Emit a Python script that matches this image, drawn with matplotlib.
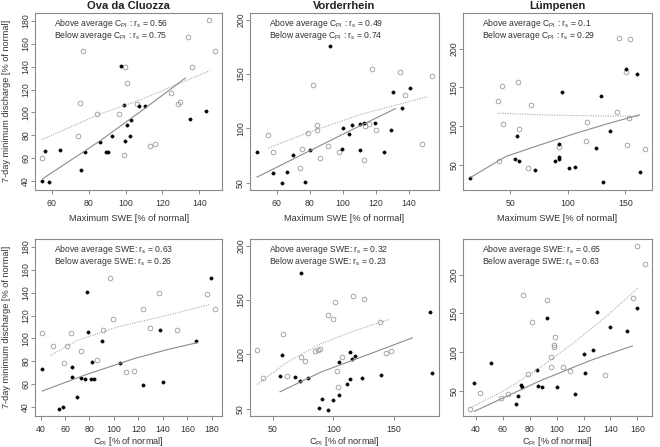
import matplotlib
matplotlib.use('Agg')
import matplotlib.pyplot as plt

plt.rcParams['font.family'] = ['Liberation Sans', 'DejaVu Sans']
plt.rcParams['mathtext.default'] = 'regular'

# ---------------- text ----------------
titles = ['Ova da Cluozza', 'Vorderrhein', 'Lümpenen']
top_xlabel = 'Maximum SWE [% of normal]'
bottom_xlabel = 'C$_{PI}$ [% of normal]'
ylabel = '7-day minimum discharge [% of normal]'
rs_top_above = ['0.56', '0.49', '0.1']
rs_top_below = ['0.75', '0.74', '0.29']
rs_bot_above = ['0.63', '0.32', '0.65']
rs_bot_below = ['0.26', '0.23', '0.63']

# ---------------- Ova da Cluozza, max SWE ----------------
ova_swe_above_x = [54.6, 77.0, 75.0, 74.3, 84.4, 96.4, 99.8, 100.7, 99.3, 106.2, 113.0, 115.9, 124.8, 128.6, 129.7, 133.8, 136.2, 145.4, 148.7]
ova_swe_above_y = [60.0, 153.3, 108.0, 79.5, 98.7, 98.4, 139.3, 126.0, 62.4, 107.0, 71.0, 72.0, 117.3, 107.7, 109.0, 166.0, 140.0, 181.2, 153.3]
ova_swe_below_x = [54.9, 56.4, 58.4, 64.2, 75.9, 78.1, 85.9, 92.6, 89.3, 90.2, 97.6, 99.1, 99.6, 100.9, 102.4, 103.1, 107.2, 110.5, 135.1, 143.8]
ova_swe_below_y = [40.3, 66.4, 38.9, 67.0, 49.9, 65.3, 74.3, 79.8, 65.0, 65.3, 141.0, 106.2, 75.1, 89.1, 79.5, 93.7, 106.0, 106.0, 94.3, 101.6]
ova_swe_fit_above_x = [54.6, 86.0, 108.0, 145.6]
ova_swe_fit_above_y = [76.3, 98.5, 111.0, 136.4]
ova_swe_fit_below_x = [55.0, 86.0, 110.0, 132.4]
ova_swe_fit_below_y = [42.0, 75.0, 103.0, 130.0]

# ---------------- Vorderrhein, max SWE ----------------
vor_swe_above_x = [55.1, 57.6, 74.0, 75.3, 82.0, 78.9, 84.2, 84.4, 86.1, 90.9, 97.7, 112.9, 113.5, 115.8, 117.6, 119.8, 134.3, 137.4, 147.5, 153.8]
vor_swe_above_y = [93.7, 78.3, 63.6, 81.5, 139.5, 95.9, 102.8, 98.7, 73.3, 83.7, 78.0, 70.8, 102.2, 104.4, 154.3, 99.0, 151.5, 130.4, 85.6, 148.3]
vor_swe_below_x = [48.2, 57.6, 63.5, 66.1, 70.0, 76.9, 80.4, 92.0, 99.5, 100.3, 103.8, 105.8, 110.3, 110.5, 112.9, 119.6, 124.7, 129.0, 130.4, 135.9, 140.6]
vor_swe_below_y = [78.3, 58.8, 49.7, 59.7, 75.8, 51.3, 80.2, 175.6, 80.9, 100.3, 94.7, 103.5, 104.4, 80.2, 105.3, 105.0, 78.3, 98.4, 133.3, 119.1, 137.0]
vor_swe_fit_above_x = [55.1, 78.7, 111.0, 151.0]
vor_swe_fit_above_y = [82.1, 96.0, 113.0, 129.2]
vor_swe_fit_below_x = [48.2, 80.0, 105.0, 131.7]
vor_swe_fit_below_y = [55.4, 79.5, 98.5, 118.2]

# ---------------- Luempenen, max SWE ----------------
lum_swe_above_x = [39.2, 43.0, 43.3, 40.1, 56.4, 57.3, 67.8, 65.8, 92.4, 117.0, 116.1, 143.3, 144.2, 150.6, 151.8, 153.5, 154.4, 167.0]
lum_swe_above_y = [133.1, 151.9, 102.9, 55.1, 157.4, 96.9, 127.6, 46.6, 73.9, 105.8, 80.7, 119.0, 213.6, 169.7, 76.0, 110.1, 212.4, 70.9]
lum_swe_below_x = [15.2, 53.8, 55.8, 57.6, 71.6, 88.6, 92.4, 92.4, 92.7, 95.3, 101.5, 106.4, 124.6, 129.2, 130.4, 136.8, 150.9, 159.9, 162.6]
lum_swe_below_y = [33.8, 57.3, 87.1, 54.7, 43.6, 55.6, 77.7, 57.3, 59.8, 144.2, 45.8, 47.9, 71.8, 138.6, 27.9, 93.5, 174.0, 166.8, 41.5]
lum_swe_fit_above_x = [39.2, 80.0, 120.0, 162.6]
lum_swe_fit_above_y = [116.9, 114.5, 113.5, 112.7]
lum_swe_fit_below_x = [15.2, 46.0, 76.0, 105.0, 134.0, 162.6]
lum_swe_fit_below_y = [33.8, 61.0, 76.0, 90.0, 103.0, 114.8]

# ---------------- Ova da Cluozza, C_PI ----------------
ova_cpi_above_x = [41.1, 50.1, 59.1, 61.9, 65.1, 73.0, 86.4, 90.8, 96.8, 99.5, 110.1, 116.4, 123.8, 129.8, 136.9, 151.3, 176.4, 183.0]
ova_cpi_above_y = [105.0, 93.4, 78.8, 93.1, 105.0, 88.7, 81.4, 107.1, 152.9, 117.0, 70.6, 71.5, 125.5, 109.1, 139.5, 107.1, 139.2, 125.5]
ova_cpi_below_x = [41.4, 55.3, 58.6, 65.4, 65.4, 69.5, 72.8, 76.1, 77.7, 78.5, 82.1, 81.5, 83.4, 90.5, 105.0, 123.8, 137.7, 140.4, 167.4, 179.4]
ova_cpi_below_y = [73.5, 38.3, 40.0, 74.7, 66.3, 49.0, 65.7, 64.8, 140.6, 105.6, 79.4, 64.2, 64.8, 97.8, 78.8, 59.3, 107.4, 61.9, 98.0, 153.2]
ova_cpi_fit_above_x = [48.2, 70.0, 102.8, 143.8, 177.8]
ova_cpi_fit_above_y = [85.2, 98.3, 110.0, 120.2, 129.5]
ova_cpi_fit_below_x = [41.4, 75.5, 116.4, 143.7, 168.2]
ova_cpi_fit_below_y = [54.0, 67.7, 82.3, 90.2, 96.3]

# ---------------- Vorderrhein, C_PI ----------------
vor_cpi_above_x = [36.9, 41.9, 58.1, 62.0, 73.5, 76.3, 84.9, 87.2, 89.1, 95.5, 99.7, 101.1, 103.1, 103.9, 107.5, 116.5, 125.7, 138.5, 143.6, 147.8]
vor_cpi_above_y = [104.3, 78.3, 118.4, 79.8, 98.0, 94.3, 103.4, 103.7, 104.9, 136.6, 132.9, 147.9, 84.8, 70.1, 98.0, 153.9, 150.7, 130.0, 101.8, 103.4]
vor_cpi_below_x = [55.9, 57.3, 68.7, 72.1, 72.9, 79.3, 88.0, 90.5, 95.5, 99.7, 104.7, 104.7, 111.2, 113.4, 114.2, 115.1, 118.2, 124.0, 139.1, 179.9, 181.6]
vor_cpi_below_y = [80.5, 99.9, 79.5, 75.7, 175.2, 78.3, 50.6, 59.1, 49.1, 58.2, 93.0, 62.9, 73.2, 77.3, 102.4, 95.8, 98.3, 78.3, 81.1, 138.8, 83.0]
vor_cpi_fit_above_x = [36.9, 62.0, 90.0, 118.0, 145.8]
vor_cpi_fit_above_y = [72.6, 93.0, 110.0, 122.0, 131.9]
vor_cpi_fit_below_x = [55.9, 90.0, 131.8, 165.4]
vor_cpi_fit_below_y = [65.7, 84.0, 101.2, 115.3]

# ---------------- Luempenen, C_PI ----------------
lum_cpi_above_x = [35.8, 43.3, 58.3, 63.5, 75.0, 78.8, 81.5, 93.0, 95.5, 96.0, 98.0, 98.3, 98.8, 104.8, 110.0, 136.0, 156.8, 159.5, 165.5]
lum_cpi_above_y = [27.3, 47.4, 41.3, 45.7, 174.2, 71.4, 139.2, 167.2, 93.3, 80.6, 106.9, 109.9, 119.5, 81.5, 75.8, 70.6, 170.3, 237.6, 214.0]
lum_cpi_below_x = [38.5, 51.3, 70.0, 71.3, 73.8, 74.5, 85.5, 86.5, 89.0, 92.5, 100.5, 113.3, 120.5, 121.0, 126.8, 130.3, 140.0, 152.0, 159.8]
lum_cpi_below_y = [60.1, 86.8, 33.0, 43.5, 57.5, 54.8, 77.6, 56.6, 54.8, 144.0, 54.8, 46.5, 97.2, 73.6, 103.4, 152.3, 133.1, 127.9, 157.6]
lum_cpi_fit_above_x = [35.8, 62.5, 87.5, 112.5, 137.5, 160.5]
lum_cpi_fit_above_y = [28.2, 52.0, 80.0, 112.0, 147.0, 182.9]
lum_cpi_fit_below_x = [38.8, 87.5, 125.0, 156.3]
lum_cpi_fit_below_y = [23.8, 63.1, 89.4, 108.2]

# axis ticks / limits per station
yticks = [[40, 60, 80, 100, 120, 140, 160, 180], [50, 100, 150, 200], [50, 100, 150, 200]]
ylims = [(32.6, 186.9), (44.0, 206.0), (18.5, 246.0)]
xticks_top = [[60, 80, 100, 120, 140], [60, 80, 100, 120, 140], [50, 100, 150]]
xticks_bot = [[40, 60, 80, 100, 120, 140, 160, 180], [50, 100, 150], [40, 60, 80, 100, 120, 140, 160]]

top_sets = [
    (ova_swe_above_x, ova_swe_above_y, ova_swe_below_x, ova_swe_below_y,
     ova_swe_fit_above_x, ova_swe_fit_above_y, ova_swe_fit_below_x, ova_swe_fit_below_y),
    (vor_swe_above_x, vor_swe_above_y, vor_swe_below_x, vor_swe_below_y,
     vor_swe_fit_above_x, vor_swe_fit_above_y, vor_swe_fit_below_x, vor_swe_fit_below_y),
    (lum_swe_above_x, lum_swe_above_y, lum_swe_below_x, lum_swe_below_y,
     lum_swe_fit_above_x, lum_swe_fit_above_y, lum_swe_fit_below_x, lum_swe_fit_below_y),
]
bot_sets = [
    (ova_cpi_above_x, ova_cpi_above_y, ova_cpi_below_x, ova_cpi_below_y,
     ova_cpi_fit_above_x, ova_cpi_fit_above_y, ova_cpi_fit_below_x, ova_cpi_fit_below_y),
    (vor_cpi_above_x, vor_cpi_above_y, vor_cpi_below_x, vor_cpi_below_y,
     vor_cpi_fit_above_x, vor_cpi_fit_above_y, vor_cpi_fit_below_x, vor_cpi_fit_below_y),
    (lum_cpi_above_x, lum_cpi_above_y, lum_cpi_below_x, lum_cpi_below_y,
     lum_cpi_fit_above_x, lum_cpi_fit_above_y, lum_cpi_fit_below_x, lum_cpi_fit_below_y),
]

W, H = 660, 447
fig = plt.figure(figsize=(W / 100, H / 100), dpi=100)
fig.patch.set_facecolor('white')

col_left = [35, 250, 463.3]
col_width = [187.3, 189, 188.4]
row_top = [13, 239]
row_h = 176.5

frame_col = '#8a8a8a'
text_col = '#333333'
open_col = '#9a9a9a'
dot_line_col = '#aaaaaa'
solid_line_col = '#8c8c8c'


def style_axes(ax, xt, yt, ylim):
    for s in ax.spines.values():
        s.set_color(frame_col)
        s.set_linewidth(0.8)
    ax.set_xticks(xt)
    ax.set_yticks(yt)
    ax.set_ylim(*ylim)
    ax.tick_params(direction='out', length=3, width=0.7, color=frame_col,
                   labelcolor=text_col, labelsize=6.3)
    ax.tick_params(axis='x', pad=3.5)
    ax.tick_params(axis='y', pad=0.5, labelrotation=90)
    for lab in ax.get_yticklabels():
        lab.set_va('center')


for row, (sets, xts, xlab, rs_a, rs_b, grp) in enumerate([
        (top_sets, xticks_top, top_xlabel, rs_top_above, rs_top_below, 'C$_{PI}$ :'),
        (bot_sets, xticks_bot, bottom_xlabel, rs_bot_above, rs_bot_below, 'SWE:')]):
    for col in range(3):
        ax = fig.add_axes([col_left[col] / W, 1 - (row_top[row] + row_h) / H,
                           col_width[col] / W, row_h / H])
        ax_, ay_, bx_, by_, fax, fay, fbx, fby = sets[col]
        ax.plot(ax_, ay_, linestyle='none', marker='o', ms=3.4, mfc='none',
                mec=open_col, mew=0.6)
        ax.plot(bx_, by_, linestyle='none', marker='o', ms=2.4, mfc='black',
                mec='black', mew=0.3)
        ax.plot(fax, fay, linestyle=(0, (1, 1.2)), color=dot_line_col, lw=0.8)
        ax.plot(fbx, fby, linestyle='-', color=solid_line_col, lw=0.8)
        ax.margins(x=0.04)
        style_axes(ax, xts[col], yticks[col], ylims[col])
        ax.text(0.10, 0.94, 'Above average ' + grp + ' r$_s$ = ' + rs_a[col],
                transform=ax.transAxes, fontsize=6.2, color=text_col, va='center')
        ax.text(0.10, 0.873, 'Below average ' + grp + ' r$_s$ = ' + rs_b[col],
                transform=ax.transAxes, fontsize=6.2, color=text_col, va='center')
        cx = (col_left[col] + col_width[col] / 2) / W
        ylab_y = 218 if row == 0 else 441
        fig.text(cx, 1 - ylab_y / H, xlab, ha='center', va='center',
                 fontsize=6.6, color=text_col)
        if row == 0:
            fig.text(cx, 1 - 6 / H, titles[col], ha='center', va='center',
                     fontsize=8, fontweight='bold', color='#222222')
    fig.text(7 / W, 1 - (row_top[row] + row_h / 2) / H, ylabel, rotation=90,
             ha='center', va='center', fontsize=6.6, color=text_col)

fig.savefig('out.png', dpi=100, facecolor='white')
